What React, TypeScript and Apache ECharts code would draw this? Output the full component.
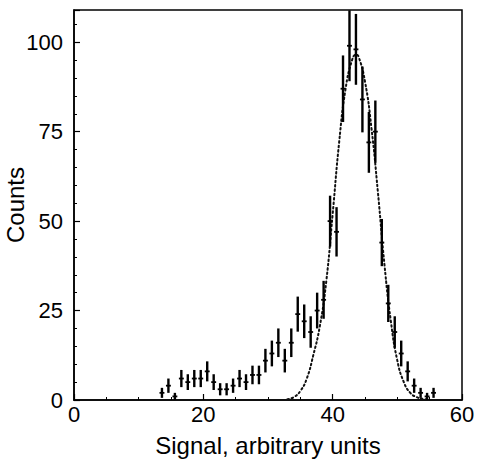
import { useEffect, useRef } from "react";
import * as echarts from "echarts";

// Histogram bins (signal, arbitrary units)
const binX = [
  13.6, 14.6, 15.6, 16.6, 17.6, 18.6, 19.6, 20.6, 21.6, 22.6, 23.6, 24.6, 25.6, 26.6, 27.6,
  28.6, 29.6, 30.6, 31.6, 32.6, 33.6, 34.6, 35.6, 36.6, 37.6, 38.6, 39.6, 40.6, 41.6, 42.6,
  43.6, 44.6, 45.6, 46.6, 47.6, 48.6, 49.6, 50.6, 51.6, 52.6, 53.6, 54.6, 55.6,
];
const counts = [
  2, 4, 1, 6, 5, 6, 6, 8, 5, 3, 3, 4, 6, 5, 7,
  7, 11, 13, 16, 11, 16, 24, 22, 19, 25, 28, 50, 47, 87, 99,
  98, 84, 72, 75, 44, 27, 19, 13, 8, 4, 2, 1, 2,
];
const errors = [
  1.4, 2, 1, 2.4, 2.2, 2.4, 2.4, 2.8, 2.2, 1.7, 1.7, 2, 2.4, 2.2, 2.6,
  2.6, 3.3, 3.6, 4, 3.3, 4, 4.9, 4.7, 4.4, 5, 5.3, 7.1, 6.9, 9.3, 9.9,
  9.9, 9.2, 8.5, 8.7, 6.6, 5.2, 4.4, 3.6, 2.8, 2, 1.4, 1, 1.4,
];

// Dotted fit curve
const fitX = [33, 34, 35, 36, 37, 38, 39, 40, 41, 42, 43, 43.6, 44, 45, 46, 47, 48, 49, 50, 51, 52, 53, 54, 55];
const fitY = [0.2, 0.8, 2.5, 6, 12.5, 20.5, 33, 52, 72, 87, 95, 96.5, 96, 89, 76, 58, 38, 22, 11, 5, 2, 0.8, 0.3, 0.1];

const xTickValues = [0, 20, 40, 60];
const yTickValues = [0, 25, 50, 75, 100];

const FONT = "'Liberation Sans', Arial, Helvetica, sans-serif";

export default function App() {
  const ref = useRef<HTMLDivElement>(null);

  useEffect(() => {
    const chart = echarts.init(ref.current!, null, { renderer: "svg" });
    const histData = binX.map((x, i) => [x, counts[i], errors[i]]);
    const fitData = fitX.map((x, i) => [x, fitY[i]]);

    chart.setOption({
      animation: false,
      backgroundColor: "#fff",
      grid: {
        left: 74,
        right: 15,
        top: 10,
        bottom: 59,
        outerBoundsMode: "none",
        containLabel: false,
        show: true,
        borderColor: "#000",
        borderWidth: 1.5,
        backgroundColor: "transparent",
      },
      xAxis: {
        type: "value",
        min: xTickValues[0],
        max: xTickValues[xTickValues.length - 1],
        interval: 20,
        name: "Signal, arbitrary units",
        nameLocation: "middle",
        nameGap: 33,
        nameMoveOverlap: false,
        nameTextStyle: { fontFamily: FONT, fontSize: 24, color: "#000" },
        axisLine: { show: true, lineStyle: { color: "#000", width: 1.5 } },
        axisTick: { show: true, inside: true, length: 6, lineStyle: { color: "#000", width: 1.2 } },
        minorTick: { show: true, splitNumber: 4, length: 3, lineStyle: { color: "#000", width: 1 } },
        splitLine: { show: false },
        axisLabel: {
          fontFamily: FONT,
          fontSize: 22,
          color: "#000",
          margin: 3,
          formatter: (v: number) => (xTickValues.includes(v) ? String(v) : ""),
        },
      },
      yAxis: {
        type: "value",
        min: 0,
        max: 109,
        interval: 25,
        name: "Counts",
        nameLocation: "middle",
        nameGap: 47,
        nameMoveOverlap: false,
        nameTextStyle: { fontFamily: FONT, fontSize: 24, color: "#000" },
        axisLine: { show: true, lineStyle: { color: "#000", width: 1.5 } },
        axisTick: { show: true, inside: true, length: 6, lineStyle: { color: "#000", width: 1.2 } },
        minorTick: { show: true, splitNumber: 5, length: 3, lineStyle: { color: "#000", width: 1 } },
        splitLine: { show: false },
        axisLabel: {
          fontFamily: FONT,
          fontSize: 22,
          color: "#000",
          margin: 11,
          formatter: (v: number) => (yTickValues.includes(v) ? String(v) : ""),
        },
      },
      series: [
        {
          type: "line",
          data: fitData,
          smooth: true,
          showSymbol: false,
          silent: true,
          clip: true,
          lineStyle: { color: "#111", width: 2, type: [1.6, 2.8], cap: "round" },
          z: 2,
        },
        {
          type: "custom",
          data: histData,
          clip: true,
          encode: { x: 0, y: 1 },
          z: 3,
          renderItem: (params: any, api: any) => {
            const x = api.value(0);
            const y = api.value(1);
            const e = api.value(2);
            const top = api.coord([x, y + e]);
            const bot = api.coord([x, y - e]);
            const l = api.coord([x - 0.38, y]);
            const r = api.coord([x + 0.38, y]);
            return {
              type: "group",
              children: [
                {
                  type: "line",
                  shape: { x1: top[0], y1: top[1], x2: bot[0], y2: bot[1] },
                  style: { stroke: "#000", lineWidth: 2.4 },
                },
                {
                  type: "line",
                  shape: { x1: l[0], y1: l[1], x2: r[0], y2: r[1] },
                  style: { stroke: "#000", lineWidth: 1.8 },
                },
              ],
            };
          },
        },
      ],
    });

    return () => chart.dispose();
  }, []);

  return (
    <div
      ref={ref}
      style={{ position: "fixed", left: 0, top: 0, width: 477, height: 459, background: "#fff" }}
    />
  );
}
